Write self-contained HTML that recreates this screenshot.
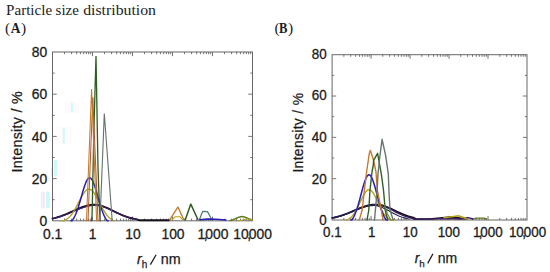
<!DOCTYPE html>
<html><head><meta charset="utf-8"><title>Particle size distribution</title>
<style>
html,body{margin:0;padding:0;background:#fff;}
body{width:550px;height:272px;overflow:hidden;font-family:"Liberation Sans",sans-serif;}
svg{display:block;}
</style></head><body>
<svg width="550" height="272" viewBox="0 0 550 272">
<rect width="550" height="272" fill="#ffffff"/>
<g opacity="0.45"><rect x="64" y="101" width="16" height="12" fill="#ffc6ea" opacity="0.14"/><rect x="70.9" y="102.7" width="2" height="8.8" fill="#8ff4f6"/><rect x="56" y="127" width="16" height="17" fill="#ffc6ea" opacity="0.14"/><rect x="62.8" y="127.7" width="2" height="16" fill="#8ff4f6"/><rect x="54.1" y="160" width="3.3" height="16.5" fill="#8ff4f6"/><rect x="57.6" y="160" width="7" height="16.5" fill="#ffc6ea" opacity="0.14"/><rect x="51.5" y="168" width="1.6" height="8.5" fill="#ff7cc4" opacity="0.8"/><rect x="40.8" y="191.6" width="1.3" height="16.6" fill="#8ff4f6" opacity="0.8"/><rect x="42.7" y="191.6" width="1.9" height="16.6" fill="#ff9ee0" opacity="0.8"/><rect x="46" y="191.6" width="3.8" height="16.6" fill="#8ff4f6"/></g>
<rect x="52.5" y="52" width="200" height="168.8" fill="none" stroke="#676767" stroke-width="1"/>
<path d="M64.54 220.8v-2.2M64.54 52v2.2M71.58 220.8v-2.2M71.58 52v2.2M76.58 220.8v-2.2M76.58 52v2.2M80.46 220.8v-2.2M80.46 52v2.2M83.63 220.8v-2.2M83.63 52v2.2M86.3 220.8v-2.2M86.3 52v2.2M88.62 220.8v-2.2M88.62 52v2.2M90.67 220.8v-2.2M90.67 52v2.2M92.5 220.8v-4.2M92.5 52v4.2M104.54 220.8v-2.2M104.54 52v2.2M111.58 220.8v-2.2M111.58 52v2.2M116.58 220.8v-2.2M116.58 52v2.2M120.46 220.8v-2.2M120.46 52v2.2M123.63 220.8v-2.2M123.63 52v2.2M126.3 220.8v-2.2M126.3 52v2.2M128.62 220.8v-2.2M128.62 52v2.2M130.67 220.8v-2.2M130.67 52v2.2M132.5 220.8v-4.2M132.5 52v4.2M144.54 220.8v-2.2M144.54 52v2.2M151.58 220.8v-2.2M151.58 52v2.2M156.58 220.8v-2.2M156.58 52v2.2M160.46 220.8v-2.2M160.46 52v2.2M163.63 220.8v-2.2M163.63 52v2.2M166.3 220.8v-2.2M166.3 52v2.2M168.62 220.8v-2.2M168.62 52v2.2M170.67 220.8v-2.2M170.67 52v2.2M172.5 220.8v-4.2M172.5 52v4.2M184.54 220.8v-2.2M184.54 52v2.2M191.58 220.8v-2.2M191.58 52v2.2M196.58 220.8v-2.2M196.58 52v2.2M200.46 220.8v-2.2M200.46 52v2.2M203.63 220.8v-2.2M203.63 52v2.2M206.3 220.8v-2.2M206.3 52v2.2M208.62 220.8v-2.2M208.62 52v2.2M210.67 220.8v-2.2M210.67 52v2.2M212.5 220.8v-4.2M212.5 52v4.2M224.54 220.8v-2.2M224.54 52v2.2M231.58 220.8v-2.2M231.58 52v2.2M236.58 220.8v-2.2M236.58 52v2.2M240.46 220.8v-2.2M240.46 52v2.2M243.63 220.8v-2.2M243.63 52v2.2M246.3 220.8v-2.2M246.3 52v2.2M248.62 220.8v-2.2M248.62 52v2.2M250.67 220.8v-2.2M250.67 52v2.2M52.5 199.7h2.2M252.5 199.7h-2.2M52.5 178.6h4.2M252.5 178.6h-4.2M52.5 157.5h2.2M252.5 157.5h-2.2M52.5 136.4h4.2M252.5 136.4h-4.2M52.5 115.3h2.2M252.5 115.3h-2.2M52.5 94.2h4.2M252.5 94.2h-4.2M52.5 73.1h2.2M252.5 73.1h-2.2" stroke="#676767" stroke-width="0.9" fill="none"/>
<g><path d="M52.5 218.52 L53.5 218.3 L54.5 218.07 L55.5 217.81 L56.5 217.54 L57.5 217.26 L58.5 216.96 L59.5 216.64 L60.5 216.31 L61.5 215.96 L62.5 215.59 L63.5 215.21 L64.5 214.82 L65.5 214.42 L66.5 214 L67.5 213.57 L68.5 213.13 L69.5 212.68 L70.5 212.23 L71.5 211.77 L72.5 211.31 L73.5 210.84 L74.5 210.38 L75.5 209.92 L76.5 209.47 L77.5 209.02 L78.5 208.59 L79.5 208.17 L80.5 207.76 L81.5 207.37 L82.5 207 L83.5 206.65 L84.5 206.32 L85.5 206.03 L86.5 205.75 L87.5 205.51 L88.5 205.3 L89.5 205.13 L90.5 204.99 L91.5 204.88 L92.5 204.8 L93.5 204.77 L94.5 204.77 L95.5 204.81 L96.5 204.9 L97.5 205.02 L98.5 205.19 L99.5 205.39 L100.5 205.63 L101.5 205.91 L102.5 206.22 L103.5 206.56 L104.5 206.93 L105.5 207.32 L106.5 207.74 L107.5 208.18 L108.5 208.64 L109.5 209.11 L110.5 209.59 L111.5 210.08 L112.5 210.58 L113.5 211.07 L114.5 211.57 L115.5 212.07 L116.5 212.56 L117.5 213.04 L118.5 213.52 L119.5 213.98 L120.5 214.43 L121.5 214.87 L122.5 215.29 L123.5 215.69 L124.5 216.08 L125.5 216.45 L126.5 216.8 L127.5 217.13 L128.5 217.45 L129.5 217.74 L130.5 218.02 L131.5 218.28 L132.5 218.52 L133.5 218.74 L134.5 218.94 L135.5 219.13 L136.5 219.31 L140 220.3 L169 220.3" fill="none" stroke="#141018" stroke-width="1.88" stroke-linejoin="round" stroke-linecap="round" opacity="1.0"/>
<path d="M52.5 218.62 L53.5 218.41 L54.5 218.19 L55.5 217.95 L56.5 217.7 L57.5 217.43 L58.5 217.15 L59.5 216.86 L60.5 216.55 L61.5 216.22 L62.5 215.89 L63.5 215.53 L64.5 215.17 L65.5 214.79 L66.5 214.4 L67.5 214 L68.5 213.59 L69.5 213.18 L70.5 212.75 L71.5 212.32 L72.5 211.89 L73.5 211.46 L74.5 211.02 L75.5 210.59 L76.5 210.16 L77.5 209.74 L78.5 209.33 L79.5 208.92 L80.5 208.53 L81.5 208.15 L82.5 207.79 L83.5 207.45 L84.5 207.13 L85.5 206.83 L86.5 206.55 L87.5 206.31 L88.5 206.09 L89.5 205.89 L90.5 205.73 L91.5 205.6 L92.5 205.5 L93.5 205.43 L94.5 205.4 L95.5 205.4 L96.5 205.44 L97.5 205.52 L98.5 205.64 L99.5 205.8 L100.5 206 L101.5 206.23 L102.5 206.5 L103.5 206.79 L104.5 207.12 L105.5 207.48 L106.5 207.86 L107.5 208.26 L108.5 208.68 L109.5 209.12 L110.5 209.57 L111.5 210.03 L112.5 210.5 L113.5 210.98 L114.5 211.46 L115.5 211.94 L116.5 212.41 L117.5 212.88 L118.5 213.35 L119.5 213.8 L120.5 214.25 L121.5 214.68 L122.5 215.1 L123.5 215.51 L124.5 215.9 L125.5 216.27 L126.5 216.62 L127.5 216.96 L128.5 217.28 L129.5 217.58 L130.5 217.86 L131.5 218.13 L132.5 218.38 L133.5 218.61 L134.5 218.82 L135.5 219.02 L136.5 219.2 L137.5 219.37" fill="none" stroke="#3b1d63" stroke-width="1.25" stroke-linejoin="round" stroke-linecap="round" opacity="1.0"/>
<path d="M62 220.8 L63 220.8 L64 220.71 L65 220.26 L66 219.71 L67 219.06 L68 218.3 L69 217.41 L70 216.39 L71 215.23 L72 213.93 L73 212.5 L74 210.93 L75 209.24 L76 207.44 L77 205.56 L78 203.63 L79 201.67 L80 199.72 L81 197.83 L82 196.02 L83 194.35 L84 192.85 L85 191.57 L86 190.53 L87 189.77 L88 189.31 L89 189.15 L90 189.31 L91 189.77 L92 190.53 L93 191.57 L94 192.85 L95 194.35 L96 196.02 L97 197.83 L98 199.72 L99 201.67 L100 203.63 L101 205.56 L102 207.44 L103 209.24 L104 210.93 L105 212.5 L106 213.93 L107 215.23 L108 216.39 L109 217.41 L110 218.3 L111 219.06 L112 219.71 L113 220.26 L114 220.71" fill="none" stroke="#b5a21e" stroke-width="1.38" stroke-linejoin="round" stroke-linecap="round" opacity="1.0"/>
<path d="M71 220.8 L72 220.8 L73 219.42 L74 217.75 L75 215.78 L76 213.49 L77 210.89 L78 208 L79 204.84 L80 201.48 L81 197.99 L82 194.46 L83 190.99 L84 187.7 L85 184.72 L86 182.15 L87 180.1 L88 178.66 L89 177.88 L90 177.81 L91 178.45 L92 179.76 L93 181.7 L94 184.17 L95 187.08 L96 190.31 L97 193.75 L98 197.28 L99 200.79 L100 204.18 L101 207.39 L102 210.34 L103 213 L104 215.35 L105 217.38 L106 219.11 L107 220.55 L108 220.8" fill="none" stroke="#2a1eb4" stroke-width="1.5" stroke-linejoin="round" stroke-linecap="round" opacity="1.0"/>
<path d="M91.6 220.8 L92.1 214 L94 126 L96 56 L98 168 L99.6 212 L100.2 220.8" fill="none" stroke="#2e5e22" stroke-width="1.31" stroke-linejoin="miter" stroke-linecap="round" opacity="1.0"/>
<path d="M88 220.8 L92.8 97.5 L98 220.8" fill="none" stroke="#b4552e" stroke-width="1.0" stroke-linejoin="miter" stroke-linecap="round" opacity="1.0"/>
<path d="M86.5 220.8 L91.6 89 L96.6 220.8" fill="none" stroke="#c47a2c" stroke-width="1.06" stroke-linejoin="miter" stroke-linecap="round" opacity="1.0"/>
<path d="M100 220.8 L104.3 113.5 L112.2 220.8" fill="none" stroke="#66746f" stroke-width="1.12" stroke-linejoin="miter" stroke-linecap="round" opacity="1.0"/>
<path d="M169.7 219.8 L177.9 207 L183.8 219.8" fill="none" stroke="#c47a2c" stroke-width="1.38" stroke-linejoin="round" stroke-linecap="round" opacity="1.0"/>
<path d="M172 219.8 L175 216.8 L180 216.8 L183 219.8" fill="none" stroke="#b5a21e" stroke-width="1.12" stroke-linejoin="round" stroke-linecap="round" opacity="1.0"/>
<path d="M185.3 219.8 L190.8 204.1 L198 219.8" fill="none" stroke="#2e5e22" stroke-width="1.5" stroke-linejoin="round" stroke-linecap="round" opacity="1.0"/>
<path d="M199.4 219.8 L202.7 211.3 L207.5 211.6 L210.8 217.8 L212 219.8" fill="none" stroke="#4f7f78" stroke-width="1.25" stroke-linejoin="round" stroke-linecap="round" opacity="1.0"/>
<path d="M200 219.8 L208 219 L216 219.2 L226 220" fill="none" stroke="#2a1eb4" stroke-width="1.5" stroke-linejoin="round" stroke-linecap="round" opacity="1.0"/>
<path d="M230 220.41 L231 220.23 L232 219.99 L233 219.69 L234 219.33 L235 218.92 L236 218.47 L237 218.01 L238 217.56 L239 217.16 L240 216.85 L241 216.65 L242 216.58 L243 216.65 L244 216.85 L245 217.16 L246 217.56 L247 218.01 L248 218.47 L249 218.92 L250 219.33 L251 219.69 L252 219.99" fill="none" stroke="#5f7a1e" stroke-width="1.5" stroke-linejoin="round" stroke-linecap="round" opacity="1.0"/>
<path d="M238 220.73 L239 220.66 L240 220.54 L241 220.36 L242 220.12 L243 219.81 L244 219.48 L245 219.19 L246 218.98 L247 218.9 L248 218.98 L249 219.19 L250 219.48 L251 219.81 L252 220.12" fill="none" stroke="#b5a21e" stroke-width="1.12" stroke-linejoin="round" stroke-linecap="round" opacity="1.0"/></g>
<text transform="translate(47.3 226.2) scale(0.97 1)" font-family="'Liberation Sans', sans-serif" font-size="14.3" text-anchor="end" fill="#1c1c1c" stroke="#1c1c1c" stroke-width="0.3">0</text>
<text transform="translate(47.3 184.1) scale(0.97 1)" font-family="'Liberation Sans', sans-serif" font-size="14.3" text-anchor="end" fill="#1c1c1c" stroke="#1c1c1c" stroke-width="0.3">20</text>
<text transform="translate(47.3 142) scale(0.97 1)" font-family="'Liberation Sans', sans-serif" font-size="14.3" text-anchor="end" fill="#1c1c1c" stroke="#1c1c1c" stroke-width="0.3">40</text>
<text transform="translate(47.3 99.1) scale(0.97 1)" font-family="'Liberation Sans', sans-serif" font-size="14.3" text-anchor="end" fill="#1c1c1c" stroke="#1c1c1c" stroke-width="0.3">60</text>
<text transform="translate(47.3 56.55) scale(0.97 1)" font-family="'Liberation Sans', sans-serif" font-size="14.3" text-anchor="end" fill="#1c1c1c" stroke="#1c1c1c" stroke-width="0.3">80</text>
<text transform="translate(52.6 238.5) scale(0.97 1)" font-family="'Liberation Sans', sans-serif" font-size="14.3" text-anchor="middle" fill="#1c1c1c" stroke="#1c1c1c" stroke-width="0.3">0.1</text>
<text transform="translate(92.6 238.5) scale(0.97 1)" font-family="'Liberation Sans', sans-serif" font-size="14.3" text-anchor="middle" fill="#1c1c1c" stroke="#1c1c1c" stroke-width="0.3">1</text>
<text transform="translate(132.9 238.5) scale(0.97 1)" font-family="'Liberation Sans', sans-serif" font-size="14.3" text-anchor="middle" fill="#1c1c1c" stroke="#1c1c1c" stroke-width="0.3">10</text>
<text transform="translate(173 238.5) scale(0.97 1)" font-family="'Liberation Sans', sans-serif" font-size="14.3" text-anchor="middle" fill="#1c1c1c" stroke="#1c1c1c" stroke-width="0.3">100</text>
<text transform="translate(213 238.5) scale(0.97 1)" font-family="'Liberation Sans', sans-serif" font-size="14.3" text-anchor="middle" fill="#1c1c1c" stroke="#1c1c1c" stroke-width="0.3">1<tspan dx="-1.67">,</tspan><tspan dx="-2.31">000</tspan></text>
<text transform="translate(252.6 238.5) scale(0.97 1)" font-family="'Liberation Sans', sans-serif" font-size="14.3" text-anchor="middle" fill="#1c1c1c" stroke="#1c1c1c" stroke-width="0.3">10<tspan dx="-1.67">,</tspan><tspan dx="-2.31">000</tspan></text>
<g font-family="'Liberation Sans', sans-serif" font-size="14.3" fill="#1c1c1c" stroke="#1c1c1c" stroke-width="0.25"><text x="137.1" y="263.6"><tspan font-style="italic">r</tspan><tspan font-size="10" dy="4.2">h</tspan></text><text x="160.8" y="263.6">nm</text><path d="M150.4 264.6L156.1 254.7" stroke-width="1.25" fill="none"/></g>
<text transform="translate(22.4 131.9) rotate(-90)" font-family="'Liberation Sans', sans-serif" font-size="14.3" text-anchor="middle" fill="#1c1c1c" stroke="#1c1c1c" stroke-width="0.25" textLength="81.2" lengthAdjust="spacing">Intensity / %</text>
<rect x="332.1" y="54.7" width="194.9" height="165.3" fill="none" stroke="#676767" stroke-width="1"/>
<path d="M343.83 220v-2.1M343.83 54.7v2.1M350.7 220v-2.1M350.7 54.7v2.1M355.57 220v-2.1M355.57 54.7v2.1M359.35 220v-2.1M359.35 54.7v2.1M362.43 220v-2.1M362.43 54.7v2.1M365.04 220v-2.1M365.04 54.7v2.1M367.3 220v-2.1M367.3 54.7v2.1M369.3 220v-2.1M369.3 54.7v2.1M371.08 220v-4.1M371.08 54.7v4.1M382.81 220v-2.1M382.81 54.7v2.1M389.68 220v-2.1M389.68 54.7v2.1M394.55 220v-2.1M394.55 54.7v2.1M398.33 220v-2.1M398.33 54.7v2.1M401.41 220v-2.1M401.41 54.7v2.1M404.02 220v-2.1M404.02 54.7v2.1M406.28 220v-2.1M406.28 54.7v2.1M408.28 220v-2.1M408.28 54.7v2.1M410.06 220v-4.1M410.06 54.7v4.1M421.79 220v-2.1M421.79 54.7v2.1M428.66 220v-2.1M428.66 54.7v2.1M433.53 220v-2.1M433.53 54.7v2.1M437.31 220v-2.1M437.31 54.7v2.1M440.39 220v-2.1M440.39 54.7v2.1M443 220v-2.1M443 54.7v2.1M445.26 220v-2.1M445.26 54.7v2.1M447.26 220v-2.1M447.26 54.7v2.1M449.04 220v-4.1M449.04 54.7v4.1M460.77 220v-2.1M460.77 54.7v2.1M467.64 220v-2.1M467.64 54.7v2.1M472.51 220v-2.1M472.51 54.7v2.1M476.29 220v-2.1M476.29 54.7v2.1M479.37 220v-2.1M479.37 54.7v2.1M481.98 220v-2.1M481.98 54.7v2.1M484.24 220v-2.1M484.24 54.7v2.1M486.24 220v-2.1M486.24 54.7v2.1M488.02 220v-4.1M488.02 54.7v4.1M499.75 220v-2.1M499.75 54.7v2.1M506.62 220v-2.1M506.62 54.7v2.1M511.49 220v-2.1M511.49 54.7v2.1M515.27 220v-2.1M515.27 54.7v2.1M518.35 220v-2.1M518.35 54.7v2.1M520.96 220v-2.1M520.96 54.7v2.1M523.22 220v-2.1M523.22 54.7v2.1M525.22 220v-2.1M525.22 54.7v2.1M332.1 199.34h2.1M527 199.34h-2.1M332.1 178.68h4.1M527 178.68h-4.1M332.1 158.01h2.1M527 158.01h-2.1M332.1 137.35h4.1M527 137.35h-4.1M332.1 116.69h2.1M527 116.69h-2.1M332.1 96.02h4.1M527 96.02h-4.1M332.1 75.36h2.1M527 75.36h-2.1" stroke="#676767" stroke-width="0.9" fill="none"/>
<g><path d="M332.3 217.94 L333.3 217.74 L334.3 217.53 L335.3 217.3 L336.3 217.06 L337.3 216.8 L338.3 216.53 L339.3 216.24 L340.3 215.94 L341.3 215.63 L342.3 215.3 L343.3 214.95 L344.3 214.59 L345.3 214.22 L346.3 213.84 L347.3 213.44 L348.3 213.04 L349.3 212.62 L350.3 212.2 L351.3 211.78 L352.3 211.34 L353.3 210.91 L354.3 210.47 L355.3 210.03 L356.3 209.6 L357.3 209.17 L358.3 208.75 L359.3 208.33 L360.3 207.93 L361.3 207.54 L362.3 207.17 L363.3 206.81 L364.3 206.47 L365.3 206.15 L366.3 205.86 L367.3 205.59 L368.3 205.35 L369.3 205.13 L370.3 204.95 L371.3 204.8 L372.3 204.67 L373.3 204.58 L374.3 204.53 L375.3 204.5 L376.3 204.52 L377.3 204.57 L378.3 204.66 L379.3 204.79 L380.3 204.97 L381.3 205.17 L382.3 205.42 L383.3 205.69 L384.3 206 L385.3 206.34 L386.3 206.71 L387.3 207.1 L388.3 207.51 L389.3 207.94 L390.3 208.38 L391.3 208.84 L392.3 209.31 L393.3 209.78 L394.3 210.26 L395.3 210.75 L396.3 211.23 L397.3 211.7 L398.3 212.18 L399.3 212.64 L400.3 213.1 L401.3 213.54 L402.3 213.97 L403.3 214.39 L404.3 214.79 L405.3 215.18 L406.3 215.55 L407.3 215.9 L408.3 216.23 L409.3 216.55 L410.3 216.85 L411.3 217.13 L412.3 217.39 L413.3 217.63 L416 219.1 L430 219 L440 218 L450 217.2 L458 217.8 L466 219" fill="none" stroke="#141018" stroke-width="1.75" stroke-linejoin="round" stroke-linecap="round" opacity="1.0"/>
<path d="M332.3 217.9 L333.3 217.71 L334.3 217.5 L335.3 217.28 L336.3 217.04 L337.3 216.79 L338.3 216.53 L339.3 216.25 L340.3 215.96 L341.3 215.65 L342.3 215.33 L343.3 215 L344.3 214.66 L345.3 214.3 L346.3 213.94 L347.3 213.56 L348.3 213.17 L349.3 212.78 L350.3 212.38 L351.3 211.97 L352.3 211.56 L353.3 211.14 L354.3 210.73 L355.3 210.31 L356.3 209.9 L357.3 209.49 L358.3 209.09 L359.3 208.69 L360.3 208.31 L361.3 207.93 L362.3 207.57 L363.3 207.23 L364.3 206.91 L365.3 206.6 L366.3 206.31 L367.3 206.05 L368.3 205.81 L369.3 205.6 L370.3 205.41 L371.3 205.26 L372.3 205.13 L373.3 205.03 L374.3 204.96 L375.3 204.92 L376.3 204.92 L377.3 204.96 L378.3 205.05 L379.3 205.18 L380.3 205.36 L381.3 205.59 L382.3 205.86 L383.3 206.17 L384.3 206.52 L385.3 206.9 L386.3 207.32 L387.3 207.75 L388.3 208.22 L389.3 208.7 L390.3 209.2 L391.3 209.71 L392.3 210.22 L393.3 210.75 L394.3 211.27 L395.3 211.79 L396.3 212.3 L397.3 212.81 L398.3 213.3 L399.3 213.78 L400.3 214.25 L401.3 214.7 L402.3 215.12 L403.3 215.53 L404.3 215.92 L405.3 216.29 L406.3 216.63 L407.3 216.95 L408.3 217.25 L409.3 217.53 L410.3 217.79 L411.3 218.03 L414 219.2 L430 219.1 L445 218.5 L460 219 L468 217.7 L473 219" fill="none" stroke="#3b1d63" stroke-width="1.38" stroke-linejoin="round" stroke-linecap="round" opacity="1.0"/>
<path d="M332.3 217.99 L333.3 217.79 L334.3 217.58 L335.3 217.35 L336.3 217.11 L337.3 216.86 L338.3 216.59 L339.3 216.31 L340.3 216.01 L341.3 215.7 L342.3 215.37 L343.3 215.03 L344.3 214.68 L345.3 214.32 L346.3 213.94 L347.3 213.55 L348.3 213.16 L349.3 212.76 L350.3 212.35 L351.3 211.94 L352.3 211.52 L353.3 211.1 L354.3 210.68 L355.3 210.27 L356.3 209.86 L357.3 209.46 L358.3 209.06 L359.3 208.68 L360.3 208.31 L361.3 207.95 L362.3 207.62 L363.3 207.3 L364.3 207 L365.3 206.73 L366.3 206.48 L367.3 206.25 L368.3 206.06 L369.3 205.89 L370.3 205.76 L371.3 205.66 L372.3 205.58 L373.3 205.54 L374.3 205.54 L375.3 205.59 L376.3 205.69 L377.3 205.86 L378.3 206.08 L379.3 206.36 L380.3 206.68 L381.3 207.05 L382.3 207.47 L383.3 207.92 L384.3 208.4 L385.3 208.91 L386.3 209.44 L387.3 209.99 L388.3 210.55 L389.3 211.11 L390.3 211.68 L391.3 212.24 L392.3 212.8 L393.3 213.34 L394.3 213.86 L395.3 214.37 L396.3 214.86 L397.3 215.33 L398.3 215.77 L399.3 216.18 L400.3 216.57 L401.3 216.93 L402.3 217.27 L403.3 217.58 L404.3 217.86 L405.3 218.12 L406.3 218.35 L407.3 218.56" fill="none" stroke="#20204a" stroke-width="1.12" stroke-linejoin="round" stroke-linecap="round" opacity="1.0"/>
<path d="M346 220 L347 219.88 L348 219.43 L349 218.87 L350 218.19 L351 217.36 L352 216.37 L353 215.21 L354 213.86 L355 212.34 L356 210.64 L357 208.78 L358 206.78 L359 204.68 L360 202.51 L361 200.34 L362 198.21 L363 196.19 L364 194.34 L365 192.73 L366 191.41 L367 190.43 L368 189.83 L369 189.63 L370 189.83 L371 190.43 L372 191.41 L373 192.73 L374 194.34 L375 196.19 L376 198.21 L377 200.34 L378 202.51 L379 204.68 L380 206.78 L381 208.78 L382 210.64 L383 212.34 L384 213.86 L385 215.21 L386 216.37 L387 217.36 L388 218.19 L389 218.87 L390 219.43 L391 219.88 L392 220 L393 220 L394 220" fill="none" stroke="#b5a21e" stroke-width="1.38" stroke-linejoin="round" stroke-linecap="round" opacity="1.0"/>
<path d="M351 220 L352 219.77 L353 218.22 L354 216.36 L355 214.15 L356 211.6 L357 208.7 L358 205.49 L359 202.01 L360 198.33 L361 194.53 L362 190.74 L363 187.08 L364 183.67 L365 180.66 L366 178.16 L367 176.3 L368 175.14 L369 174.75 L370 175.14 L371 176.3 L372 178.16 L373 180.66 L374 183.67 L375 187.08 L376 190.74 L377 194.53 L378 198.33 L379 202.01 L380 205.49 L381 208.7 L382 211.6 L383 214.15 L384 216.36 L385 218.22 L386 219.77 L387 220" fill="none" stroke="#2a1eb4" stroke-width="1.5" stroke-linejoin="round" stroke-linecap="round" opacity="1.0"/>
<path d="M359.3 220 L362.2 210 L364.4 190 L366.6 172 L369.2 154 L370.3 150.3 L373.6 160.3 L376 172 L377.3 190 L381.3 210 L383 220" fill="none" stroke="#c47a2c" stroke-width="1.38" stroke-linejoin="round" stroke-linecap="round" opacity="1.0"/>
<path d="M367 220 L368.8 210 L370 190 L372 172 L373.3 165 L373.6 160.3 L377.6 153.3 L381.3 173.9 L383.6 191 L385.2 210 L387.7 220" fill="none" stroke="#2e5e22" stroke-width="1.38" stroke-linejoin="round" stroke-linecap="round" opacity="1.0"/>
<path d="M374.5 220 L375.4 210 L377 192 L378 173.9 L379.9 155.9 L382.1 139.3 L385.7 155.9 L388.3 173.9 L389 192 L390 210 L393.2 220" fill="none" stroke="#66746f" stroke-width="1.38" stroke-linejoin="round" stroke-linecap="round" opacity="1.0"/>
<path d="M384.5 205 L387.5 214 L390.9 220" fill="none" stroke="#5d8a3c" stroke-width="1.12" stroke-linejoin="round" stroke-linecap="round" opacity="1.0"/>
<path d="M444 217.7 L452 216.8 L458.3 215.8 L463 217.2 L467 219.1" fill="none" stroke="#b5a21e" stroke-width="1.5" stroke-linejoin="round" stroke-linecap="round" opacity="1.0"/>
<path d="M473.6 218.8 L476 218.1 L484 218.1 L486.5 219" fill="none" stroke="#5f7a1e" stroke-width="1.38" stroke-linejoin="round" stroke-linecap="round" opacity="1.0"/></g>
<text transform="translate(326.6 225.4) scale(0.97 1)" font-family="'Liberation Sans', sans-serif" font-size="13.8" text-anchor="end" fill="#1c1c1c" stroke="#1c1c1c" stroke-width="0.3">0</text>
<text transform="translate(326.6 183.98) scale(0.97 1)" font-family="'Liberation Sans', sans-serif" font-size="13.8" text-anchor="end" fill="#1c1c1c" stroke="#1c1c1c" stroke-width="0.3">20</text>
<text transform="translate(326.6 142.25) scale(0.97 1)" font-family="'Liberation Sans', sans-serif" font-size="13.8" text-anchor="end" fill="#1c1c1c" stroke="#1c1c1c" stroke-width="0.3">40</text>
<text transform="translate(326.6 100.22) scale(0.97 1)" font-family="'Liberation Sans', sans-serif" font-size="13.8" text-anchor="end" fill="#1c1c1c" stroke="#1c1c1c" stroke-width="0.3">60</text>
<text transform="translate(326.6 58.7) scale(0.97 1)" font-family="'Liberation Sans', sans-serif" font-size="13.8" text-anchor="end" fill="#1c1c1c" stroke="#1c1c1c" stroke-width="0.3">80</text>
<text transform="translate(332.4 237.2) scale(0.97 1)" font-family="'Liberation Sans', sans-serif" font-size="13.8" text-anchor="middle" fill="#1c1c1c" stroke="#1c1c1c" stroke-width="0.3">0.1</text>
<text transform="translate(371.7 237.2) scale(0.97 1)" font-family="'Liberation Sans', sans-serif" font-size="13.8" text-anchor="middle" fill="#1c1c1c" stroke="#1c1c1c" stroke-width="0.3">1</text>
<text transform="translate(410.2 237.2) scale(0.97 1)" font-family="'Liberation Sans', sans-serif" font-size="13.8" text-anchor="middle" fill="#1c1c1c" stroke="#1c1c1c" stroke-width="0.3">10</text>
<text transform="translate(448.8 237.2) scale(0.97 1)" font-family="'Liberation Sans', sans-serif" font-size="13.8" text-anchor="middle" fill="#1c1c1c" stroke="#1c1c1c" stroke-width="0.3">100</text>
<text transform="translate(487.8 237.2) scale(0.97 1)" font-family="'Liberation Sans', sans-serif" font-size="13.8" text-anchor="middle" fill="#1c1c1c" stroke="#1c1c1c" stroke-width="0.3">1<tspan dx="-1.61">,</tspan><tspan dx="-2.23">000</tspan></text>
<text transform="translate(527.5 237.2) scale(0.97 1)" font-family="'Liberation Sans', sans-serif" font-size="13.8" text-anchor="middle" fill="#1c1c1c" stroke="#1c1c1c" stroke-width="0.3">10<tspan dx="-1.61">,</tspan><tspan dx="-2.23">000</tspan></text>
<g font-family="'Liberation Sans', sans-serif" font-size="14" fill="#1c1c1c" stroke="#1c1c1c" stroke-width="0.25"><text x="414.7" y="262.6"><tspan font-style="italic">r</tspan><tspan font-size="9.8" dy="4.1">h</tspan></text><text x="437.8" y="262.6">nm</text><path d="M427.7 263.4L433 253.7" stroke-width="1.25" fill="none"/></g>
<text transform="translate(303 132.75) rotate(-90)" font-family="'Liberation Sans', sans-serif" font-size="13.9" text-anchor="middle" fill="#1c1c1c" stroke="#1c1c1c" stroke-width="0.25" textLength="79.7" lengthAdjust="spacing">Intensity / %</text>
<g font-family="'Liberation Serif', serif" font-size="14" fill="#1c1c1c"><text x="6.1" y="14.5" textLength="46" lengthAdjust="spacingAndGlyphs">Particle</text><text x="55.6" y="14.5" textLength="23.2" lengthAdjust="spacingAndGlyphs">size</text><text x="83.2" y="14.5" textLength="72.8" lengthAdjust="spacingAndGlyphs">distribution</text></g>
<g font-family="'Liberation Serif', serif" fill="#1c1c1c"><text x="4.9" y="33" font-size="15.5">(</text><text x="10.7" y="33" font-size="13.6" font-weight="bold" textLength="9.7" lengthAdjust="spacingAndGlyphs">A</text><text x="20.9" y="33" font-size="15.5">)</text></g>
<g font-family="'Liberation Serif', serif" fill="#1c1c1c"><text x="274.5" y="33" font-size="15.5">(</text><text x="279.0" y="33" font-size="13.6" font-weight="bold" textLength="8.4" lengthAdjust="spacingAndGlyphs">B</text><text x="288.0" y="33" font-size="15.5">)</text></g>
</svg>
</body></html>
